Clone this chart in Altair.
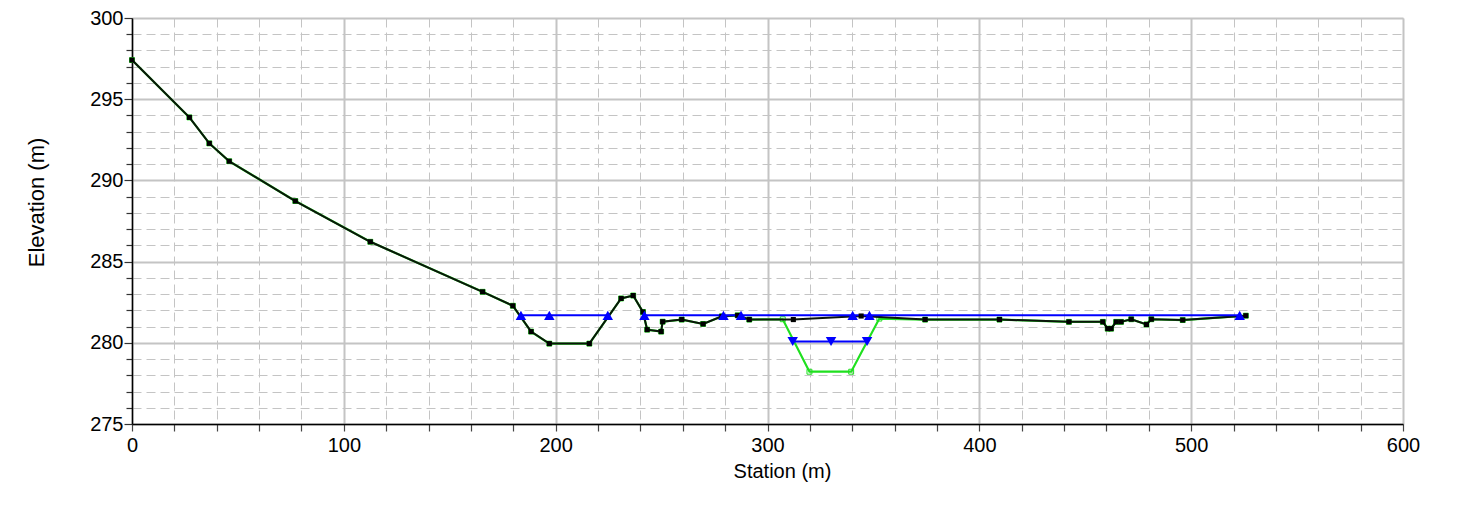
import altair as alt
import pandas as pd

# Ground profile (station m, elevation m)
station = [0, 27.1, 36.5, 45.9, 77.1, 112.5, 165.5, 179.8, 188.4, 197.0, 215.9,
           230.9, 236.6, 241.2, 243.2, 249.8, 250.5, 259.5, 269.6, 278.5, 285.9,
           291.4, 312.2, 344.2, 374.4, 409.5, 442.3, 458.3, 460.6, 462.2, 464.6,
           466.9, 471.7, 478.9, 481.2, 496.0, 525.8]
elevation = [297.41, 293.88, 292.28, 291.18, 288.73, 286.22, 283.14, 282.28, 280.69,
             279.95, 279.95, 282.73, 282.91, 281.90, 280.81, 280.69, 281.30, 281.43,
             281.16, 281.63, 281.69, 281.43, 281.43, 281.65, 281.43, 281.43, 281.29,
             281.29, 280.87, 280.87, 281.29, 281.29, 281.45, 281.13, 281.45, 281.40,
             281.67]

# Excavated channel (modified profile)
channel_station = [307.2, 319.8, 339.5, 352.8]
channel_elevation = [281.45, 278.22, 278.22, 281.49]

# Water surfaces
ws_main_seg1 = [183.6, 197.0, 224.6]
ws_main_seg2 = [241.9, 279.2, 287.5, 340.2, 348.1, 522.9]
ws_main_elev = 281.69
ws_channel_station = [311.9, 330.0, 347.0]
ws_channel_elev = 280.08

x_ticks = list(range(0, 601, 20))
y_ticks = list(range(275, 301, 1))

ground = pd.DataFrame({"station": station, "elev": elevation})
mod_rows = [(s, e) for s, e in zip(station, elevation) if s < channel_station[0]]
mod_rows += list(zip(channel_station, channel_elevation))
mod_rows += [(s, e) for s, e in zip(station, elevation) if s > channel_station[-1]]
modified = pd.DataFrame(mod_rows, columns=["station", "elev"])

ws_rows = [(s, ws_main_elev, "a") for s in ws_main_seg1]
ws_rows += [(s, ws_main_elev, "b") for s in ws_main_seg2]
ws_main = pd.DataFrame(ws_rows, columns=["station", "elev", "seg"])
ws_ch = pd.DataFrame({"station": ws_channel_station,
                      "elev": [ws_channel_elev] * len(ws_channel_station)})

FONT = "Liberation Sans"
GRID = "#c4c4c4"

x_axis = alt.Axis(
    values=x_ticks,
    labelExpr="datum.value % 100 === 0 ? datum.label : ''",
    grid=True,
    gridColor=GRID,
    gridDash={"condition": {"test": "datum.value % 100 === 0", "value": [1, 0]}, "value": [9, 5]},
    gridWidth={"condition": {"test": "datum.value % 100 === 0", "value": 2}, "value": 1},
    domainColor="#000000",
    domainWidth=1.5,
    tickColor="#444444",
    tickSize=7,
    tickWidth=1.2,
    labelFont=FONT,
    labelFontSize=20,
    labelColor="#000000",
    labelPadding=4,
    labelFlush=False,
    title="Station (m)",
    titleFont=FONT,
    titleFontSize=20,
    titleFontWeight="normal",
    titleColor="#000000",
    titleX=650,
    titleY=47,
    titleAlign="center",
    titleBaseline="middle",
)

y_axis = alt.Axis(
    values=y_ticks,
    labelExpr="datum.value % 5 === 0 ? datum.label : ''",
    grid=True,
    gridColor=GRID,
    gridDash={"condition": {"test": "datum.value % 5 === 0", "value": [1, 0]}, "value": [9, 5]},
    gridWidth={"condition": {"test": "datum.value % 5 === 0", "value": 2}, "value": 1},
    domainColor="#000000",
    domainWidth=1.5,
    tickColor="#333333",
    tickSize={"condition": {"test": "datum.value % 5 === 0", "value": 8}, "value": 6},
    tickWidth=1.2,
    labelFont=FONT,
    labelFontSize=20,
    labelColor="#000000",
    labelPadding=1,
    labelFlush=False,
    title="Elevation (m)",
    titleFont=FONT,
    titleFontSize=22,
    titleFontWeight="normal",
    titleColor="#000000",
    titleAngle=270,
    titleX=-96,
    titleY=184,
    titleAlign="center",
    titleBaseline="middle",
)

xs = alt.Scale(domain=[0, 600], nice=False, zero=False)
ys = alt.Scale(domain=[275, 300], nice=False, zero=False)


def X():
    return alt.X("station:Q", scale=xs, axis=x_axis)


def Y():
    return alt.Y("elev:Q", scale=ys, axis=y_axis)


green_line = alt.Chart(modified).mark_line(color="#1fe01f", strokeWidth=2.2).encode(x=X(), y=Y())
green_pts = alt.Chart(modified).mark_point(shape="square", size=24, filled=False,
                                           color="#1fe01f", strokeWidth=1, opacity=1).encode(x=X(), y=Y())
black_line = alt.Chart(ground).mark_line(color="#0a140a", strokeWidth=2).encode(x=X(), y=Y())
black_pts = alt.Chart(ground).mark_point(shape="square", size=26, filled=True,
                                         color="#000000", opacity=1).encode(x=X(), y=Y())
ws_line = alt.Chart(ws_main).mark_line(color="#0000ff", strokeWidth=2).encode(
    x=X(), y=Y(), detail="seg:N")
ws_tri = alt.Chart(ws_main).mark_point(shape="triangle-up", size=110, filled=True,
                                       color="#0000ff", opacity=1).encode(x=X(), y=Y())
wsc_line = alt.Chart(ws_ch).mark_line(color="#0000ff", strokeWidth=2).encode(x=X(), y=Y())
wsc_tri = alt.Chart(ws_ch).mark_point(shape="triangle-down", size=110, filled=True,
                                      color="#0000ff", opacity=1).encode(x=X(), y=Y())

chart = alt.layer(
    green_line, green_pts, black_line, ws_line, wsc_line, black_pts, ws_tri, wsc_tri
).properties(
    width=1271,
    height=406,
    autosize=alt.AutoSizeParams(type="none"),
    padding={"left": 124, "top": 10, "right": 40, "bottom": 70},
).configure_view(
    stroke="#c0c0c0",
    strokeWidth=2,
).configure(background="#ffffff")

chart.save("out.html", embed_options={"renderer": "svg", "actions": False})
